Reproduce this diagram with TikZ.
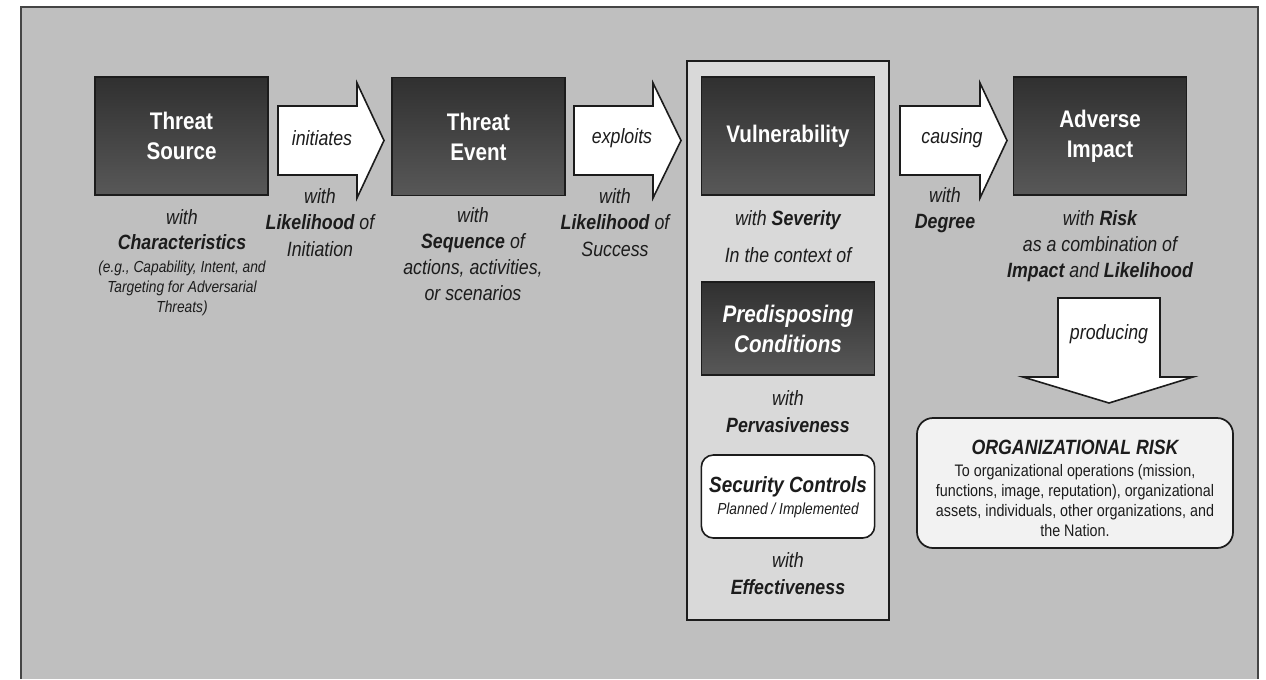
\documentclass[tikz,border=0pt]{standalone}
\usepackage{fontspec}
\setmainfont[FakeStretch=0.86]{Liberation Sans}
\definecolor{bggray}{HTML}{BFBFBF}
\definecolor{midgray}{HTML}{D9D9D9}
\definecolor{ink}{HTML}{1C1C1C}
\definecolor{framecol}{HTML}{454545}
\definecolor{boxtop}{HTML}{303030}
\definecolor{boxbot}{HTML}{585858}
\definecolor{orgfill}{HTML}{F2F2F2}
\begin{document}
\begin{tikzpicture}[x=0.75pt,y=-0.75pt,
  darkbox/.style={draw=ink, line width=1.2pt, top color=boxtop, bottom color=boxbot,
    text=white, align=center, inner sep=0pt, minimum width=130pt, minimum height=88.5pt,
    font=\fontsize{18}{22.5}\selectfont\bfseries},
  midbox/.style={draw=ink, line width=1.3pt, fill=midgray, inner sep=0pt},
  scbox/.style={draw=ink, line width=1.2pt, fill=white, rounded corners=9pt, inner sep=0pt,
    minimum width=130pt, minimum height=62.25pt},
  orgbox/.style={draw=ink, line width=1.3pt, fill=orgfill, rounded corners=12pt, inner sep=0pt,
    minimum width=237pt, minimum height=97.5pt},
  blockarrow/.style={draw=ink, line width=1.2pt, fill=white, line join=miter},
  lbl/.style={text=ink, align=center, inner sep=0pt, font=\fontsize{15.5}{20}\selectfont\itshape},
  lbltight/.style={lbl, font=\fontsize{15.5}{19.5}\selectfont\itshape},
  small/.style={text=ink, align=center, inner sep=0pt, font=\fontsize{12}{15}\selectfont\itshape},
]
\useasboundingbox (0,0) rectangle (1266,679);
% outer frame
\fill[bggray] (21,7) rectangle (1258,679);
\draw[framecol, line width=1.5pt] (21,679) -- (21,7) -- (1258,7) -- (1258,679);

% middle container
\node[midbox, minimum width=151.5pt, minimum height=419.25pt] (mid) at (788,340.5) {};

% dark boxes
\node[darkbox] (ts) at (181.5,136) {Threat\\Source};
\node[darkbox] (te) at (478.5,136.5) {Threat\\Event};
\node[darkbox] (vul) at (788,136) {Vulnerability};
\node[darkbox, minimum height=69.75pt, font=\fontsize{18}{22.5}\selectfont\bfseries\itshape] (pc) at (788,328.5) {Predisposing\\Conditions};
\node[darkbox] (ai) at (1100,136) {Adverse\\Impact};

% block arrows
\draw[blockarrow] (278,106) -- (357,106) -- (357,83) -- (384,140.5) -- (357,198) -- (357,175) -- (278,175) -- cycle;
\draw[blockarrow] (574,106) -- (653,106) -- (653,83) -- (681,140.5) -- (653,198) -- (653,175) -- (574,175) -- cycle;
\draw[blockarrow] (900,106) -- (980,106) -- (980,83) -- (1007,140.5) -- (980,198) -- (980,175) -- (900,175) -- cycle;
\draw[blockarrow] (1058,298) -- (1160,298) -- (1160,377) -- (1193,377) -- (1109,403) -- (1023,377) -- (1058,377) -- cycle;

\node[lbl] (a1t) at (322,138) {initiates};
\node[lbl] (a2t) at (622,138) {exploits};
\node[lbl] (a3t) at (952,138) {causing};
\node[lbl] (a4t) at (1109,334) {producing};

% texts under threat source
\node[lbl, font=\fontsize{15.5}{18.75}\selectfont\itshape] (tsw) at (182,229.5) {with\\\textbf{Characteristics}};
\node[small] (tsd) at (182,288) {(e.g., Capability, Intent, and\\Targeting for Adversarial\\Threats)};

\node[lbl] (a1l) at (320,222.5) {with\\\textbf{Likelihood} of\\Initiation};
\node[lbltight] (tel) at (473,254) {with\\\textbf{Sequence} of\\actions, activities,\\or scenarios};
\node[lbl] (a2l) at (615,222.5) {with\\\textbf{Likelihood} of\\Success};

% middle column
\node[lbl] (sev) at (788,220) {with \textbf{Severity}};
\node[lbl] (ctx) at (788,255) {In the context of};
\node[lbl] (perv) at (788,411.5) {with\\\textbf{Pervasiveness}};
\node[scbox] (sc) at (788,496.5) {};
\node[text=ink, inner sep=0pt, font=\fontsize{16.5}{20}\selectfont\bfseries\itshape] (sct) at (788,487) {Security Controls};
\node[text=ink, inner sep=0pt, font=\fontsize{12}{14}\selectfont\itshape] (scp) at (788,510) {Planned / Implemented};
\node[lbl] (eff) at (788,573.5) {with\\\textbf{Effectiveness}};

% right side
\node[lbl] (a3l) at (945,210) {with\\\textbf{Degree}};
\node[lbltight] (ail) at (1100,246.5) {with \textbf{Risk}\\as a combination of\\\textbf{Impact} and \textbf{Likelihood}};

\node[orgbox] (org) at (1075,483) {};
\node[text=ink, inner sep=0pt, font=\fontsize{15.5}{18}\selectfont\bfseries\itshape] (orgt) at (1075,447) {ORGANIZATIONAL RISK};
\node[text=ink, align=center, inner sep=0pt, font=\fontsize{12.5}{15}\selectfont] (orgb) at (1075,501) {To organizational operations (mission,\\functions, image, reputation), organizational\\assets, individuals, other organizations, and\\the Nation.};
\end{tikzpicture}
\end{document}
